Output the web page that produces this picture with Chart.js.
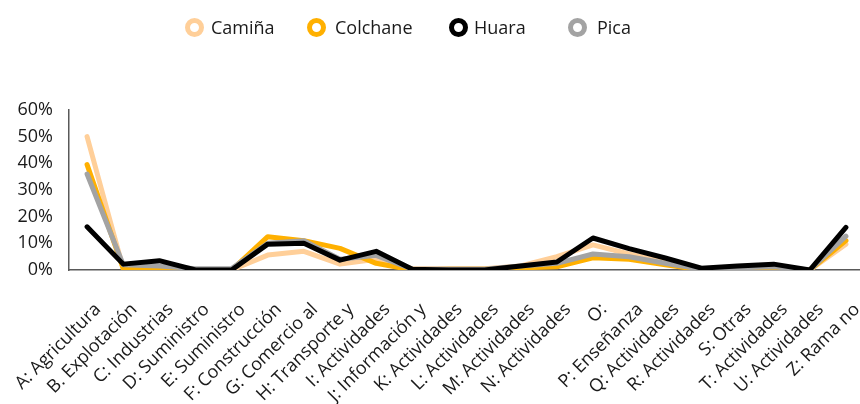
<!DOCTYPE html>
<html>
<head>
<meta charset="utf-8">
<script src="https://cdn.jsdelivr.net/npm/chart.js@4/dist/chart.umd.min.js"></script>
<style>
  html, body { margin: 0; padding: 0; background: #fff; overflow: hidden; width: 860px; height: 404px; }
  #wrap { position: relative; width: 864px; height: 404px; }
  #legend { position: absolute; left: 0; top: 0; width: 860px; height: 50px; font-family: "Open Sans", sans-serif; font-size: 18px; color: #1a1a1a; }
  .item { position: absolute; top: 14px; height: 26px; line-height: 26px; white-space: nowrap; }
  .ring { position: absolute; width: 9px; height: 9px; border-width: 5px; border-style: solid; border-radius: 50%; background: #fff; }
</style>
</head>
<body>
<div id="wrap">
  <canvas id="c" width="864" height="404"></canvas>
  <div id="legend"></div>
</div>
<script>
const categories = ["A: Agricultura", "B. Explotación", "C: Industrias", "D: Suministro", "E: Suministro",
  "F: Construcción", "G: Comercio al", "H: Transporte y", "I: Actividades", "J: Información y",
  "K: Actividades", "L: Actividades", "M: Actividades", "N: Actividades", "O:", "P: Enseñanza",
  "Q: Actividades", "R: Actividades", "S: Otras", "T: Actividades", "U: Actividades", "Z: Rama no"];

const seriesNames = ["Camiña", "Colchane", "Huara", "Pica"];
const camina   = [50, 0.5, 1, 0, 0, 5.6, 7, 2.2, 4, 0.5, 0.5, 0.5, 1.5, 5, 9.4, 6, 3, 0, 0.5, 1, 0, 9.7];
const colchane = [39.5, 0.5, 0.5, 0, 0, 12.5, 11, 8.1, 2.5, 0, 0.3, 0.3, 0.8, 1.2, 4.6, 4, 2, 0, 0.3, 0.5, 0, 11];
const huara    = [16.2, 2.2, 3.5, 0, 0, 9.7, 10, 3.7, 7, 0.3, 0, 0, 1.5, 3, 12, 8, 4.5, 0.7, 1.5, 2.2, 0, 16];
const pica     = [36, 2, 1.5, 0.5, 0.5, 10, 11, 4, 5.5, 0.3, 0.3, 0.3, 1.5, 2.5, 6, 5, 2.5, 0.3, 0.8, 1.2, 0, 12.7];
const yTicks = [0, 10, 20, 30, 40, 50, 60];

const colors = ["#FFCF99", "#FFB000", "#000000", "#A3A3A3"];
const drawOrder = [3, 2, 0, 1];
const allSeries = [camina, colchane, huara, pica];

const datasets = allSeries.map((d, i) => ({
  label: seriesNames[i],
  data: d,
  borderColor: colors[i],
  backgroundColor: colors[i],
  borderWidth: 5,
  pointRadius: 0,
  tension: 0,
  fill: false,
  order: drawOrder[i],
  borderJoinStyle: 'round',
  borderCapStyle: 'round'
}));

// HTML legend
const legendPos = [{ring: 185, text: 211}, {ring: 307, text: 335}, {ring: 449, text: 474}, {ring: 568, text: 597}];
const legend = document.getElementById('legend');
seriesNames.forEach((n, i) => {
  const r = document.createElement('div');
  r.className = 'ring';
  r.style.left = legendPos[i].ring + 'px';
  r.style.top = '18px';
  r.style.borderColor = colors[i];
  legend.appendChild(r);
  const t = document.createElement('div');
  t.className = 'item';
  t.style.left = legendPos[i].text + 'px';
  t.textContent = n;
  legend.appendChild(t);
});

new Chart(document.getElementById('c'), {
  type: 'line',
  data: { labels: categories, datasets },
  options: {
    responsive: false,
    animation: false,
    layout: { padding: { top: 110, right: 0, left: 0, bottom: 0 } },
    plugins: { legend: { display: false }, tooltip: { enabled: false } },
    scales: {
      x: {
        offset: true,
        grid: { display: false, drawTicks: false },
        border: { display: true, color: '#595959', width: 1.5 },
        ticks: {
          autoSkip: false,
          maxRotation: 45, minRotation: 45,
          padding: 29,
          labelOffset: 11,
          color: '#1a1a1a',
          font: { family: 'Open Sans', size: 18 }
        },
        afterFit: (s) => { s.height = 134; s.paddingLeft = 0; s.paddingRight = 0; }
      },
      y: {
        min: 0, max: 60,
        afterBuildTicks: (s) => { s.ticks = yTicks.map(v => ({ value: v })); },
        grid: { display: false, drawTicks: false },
        border: { display: true, color: '#595959', width: 1.5 },
        ticks: {
          padding: 16,
          color: '#1a1a1a',
          font: { family: 'Open Sans', size: 18 },
          callback: (v) => v + '%'
        },
        afterFit: (s) => { s.width = 69; s.paddingTop = 0; s.paddingBottom = 0; }
      }
    }
  }
});
</script>
</body>
</html>
